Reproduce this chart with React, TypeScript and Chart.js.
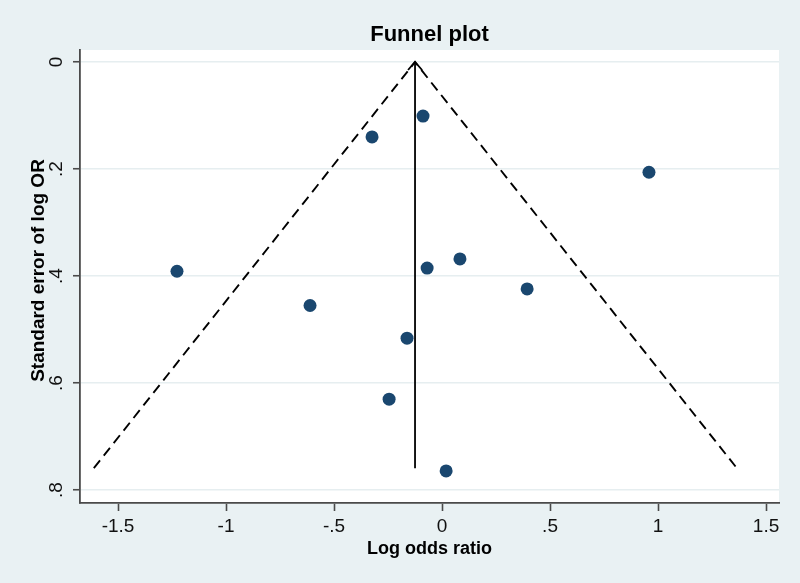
import React, { useEffect, useRef } from "react";
import { Chart, registerables } from "chart.js";

Chart.register(...registerables);

// Study estimates
const logOddsRatio = [-0.088, -0.324, 0.958, -1.227, -0.611, -0.069, 0.083, 0.394, -0.162, -0.245, 0.019];
const seLogOR = [0.101, 0.140, 0.206, 0.391, 0.455, 0.385, 0.368, 0.424, 0.516, 0.630, 0.764];

// Pseudo 95% confidence limits (funnel) and pooled estimate line
const funnelX = [-1.612, -0.125, 1.365];
const funnelY = [0.759, 0, 0.759];
const pooledX = [-0.125, -0.125];
const pooledY = [0.759, 0];

const xTicks = [-1.5, -1, -0.5, 0, 0.5, 1, 1.5];
const xTickLabels = ["-1.5", "-1", "-.5", "0", ".5", "1", "1.5"];
const yTicks = [0, 0.2, 0.4, 0.6, 0.8];
const yTickLabels = ["0", ".2", ".4", ".6", ".8"];

const titleText = "Funnel plot";
const xTitle = "Log odds ratio";
const yTitle = "Standard error of log OR";

const FONT = "'Liberation Sans', Arial, Helvetica, sans-serif";
const BG = "#e9f1f3";
const AXIS = "#4a4a4a";

export default function App() {
  const ref = useRef<HTMLCanvasElement | null>(null);

  useEffect(() => {
    document.body.style.margin = "0";
    const canvas = ref.current;
    if (!canvas) return;

    const decor = {
      id: "decor",
      beforeDraw(chart: any) {
        const { ctx, chartArea } = chart;
        ctx.save();
        ctx.fillStyle = BG;
        ctx.fillRect(0, 0, chart.width, chart.height);
        ctx.fillStyle = "#ffffff";
        ctx.fillRect(chartArea.left, chartArea.top, chartArea.right - chartArea.left, chartArea.bottom - chartArea.top);
        ctx.restore();
      },
      afterDraw(chart: any) {
        const { ctx, chartArea, scales } = chart;
        const xs = scales.x;
        const ys = scales.y;
        ctx.save();
        // title
        ctx.fillStyle = "#000";
        ctx.font = `bold 22px ${FONT}`;
        ctx.textAlign = "center";
        ctx.textBaseline = "middle";
        ctx.fillText(titleText, (chartArea.left + chartArea.right) / 2, 35);
        // x title
        ctx.font = `bold 18px ${FONT}`;
        ctx.fillText(xTitle, (chartArea.left + chartArea.right) / 2, 549);
        // y title
        ctx.save();
        ctx.translate(39, (chartArea.top + chartArea.bottom) / 2 - 6);
        ctx.rotate(-Math.PI / 2);
        ctx.font = `bold 19px ${FONT}`;
        ctx.fillText(yTitle, 0, 0);
        ctx.restore();
        // y tick labels (rotated)
        ctx.font = `19px ${FONT}`;
        ctx.fillStyle = "#111";
        yTicks.forEach((v, i) => {
          const py = ys.getPixelForValue(v);
          ctx.save();
          ctx.translate(57, py);
          ctx.rotate(-Math.PI / 2);
          ctx.fillText(yTickLabels[i], 0, 0);
          ctx.restore();
        });
        // arrowhead on pooled line
        const ax = xs.getPixelForValue(pooledX[1]);
        const ay = ys.getPixelForValue(pooledY[1]);
        ctx.strokeStyle = "#000";
        ctx.lineWidth = 1.8;
        ctx.beginPath();
        ctx.moveTo(ax - 7, ay + 8);
        ctx.lineTo(ax, ay);
        ctx.lineTo(ax + 7, ay + 8);
        ctx.stroke();
        ctx.restore();
      },
    };

    const chart = new Chart(canvas, {
      type: "scatter",
      data: {
        datasets: [
          {
            type: "line",
            data: funnelX.map((x, i) => ({ x, y: funnelY[i] })),
            borderColor: "#000",
            borderWidth: 1.9,
            borderDash: [10, 6],
            pointRadius: 0,
            fill: false,
            tension: 0,
          },
          {
            type: "line",
            data: pooledX.map((x, i) => ({ x, y: pooledY[i] })),
            borderColor: "#000",
            borderWidth: 1.8,
            pointRadius: 0,
            fill: false,
          },
          {
            type: "scatter",
            data: logOddsRatio.map((x, i) => ({ x, y: seLogOR[i] })),
            backgroundColor: "#1a476f",
            borderColor: "#1a476f",
            pointRadius: 6.5,
            borderWidth: 0,
          },
        ],
      },
      options: {
        animation: false,
        responsive: false,
        layout: { padding: { top: 50, right: 21, left: 0, bottom: 0 } },
        plugins: { legend: { display: false }, tooltip: { enabled: false }, title: { display: false } },
        scales: {
          x: {
            type: "linear",
            min: -1.676,
            max: 1.56,
            afterFit: (s: any) => {
              s.height = 80;
            },
            afterBuildTicks: (s: any) => {
              s.ticks = xTicks.map((v) => ({ value: v }));
            },
            ticks: {
              callback: (v: any) => {
                const i = xTicks.indexOf(Number(v));
                return i >= 0 ? xTickLabels[i] : "";
              },
              color: "#111",
              font: { family: FONT, size: 19 },
              padding: 4,
              maxRotation: 0,
              minRotation: 0,
              autoSkip: false,
            },
            grid: {
              drawOnChartArea: false,
              drawTicks: true,
              tickLength: 8,
              tickColor: AXIS,
              tickWidth: 1.6,
            },
            border: { display: true, color: AXIS, width: 1.8 },
          },
          y: {
            type: "linear",
            reverse: true,
            min: -0.0224,
            max: 0.824,
            afterFit: (s: any) => {
              s.width = 80;
            },
            afterBuildTicks: (s: any) => {
              s.ticks = yTicks.map((v) => ({ value: v }));
            },
            ticks: { display: false },
            grid: {
              drawOnChartArea: true,
              color: "#e6eef0",
              lineWidth: 1.5,
              drawTicks: true,
              tickLength: 7,
              tickColor: AXIS,
              tickWidth: 1.6,
            },
            border: { display: true, color: AXIS, width: 1.8 },
          },
        },
      },
      plugins: [decor],
    } as any);

    return () => chart.destroy();
  }, []);

  return (
    <div style={{ width: 800, height: 583 }}>
      <canvas ref={ref} width={800} height={583} style={{ display: "block" }} />
    </div>
  );
}
